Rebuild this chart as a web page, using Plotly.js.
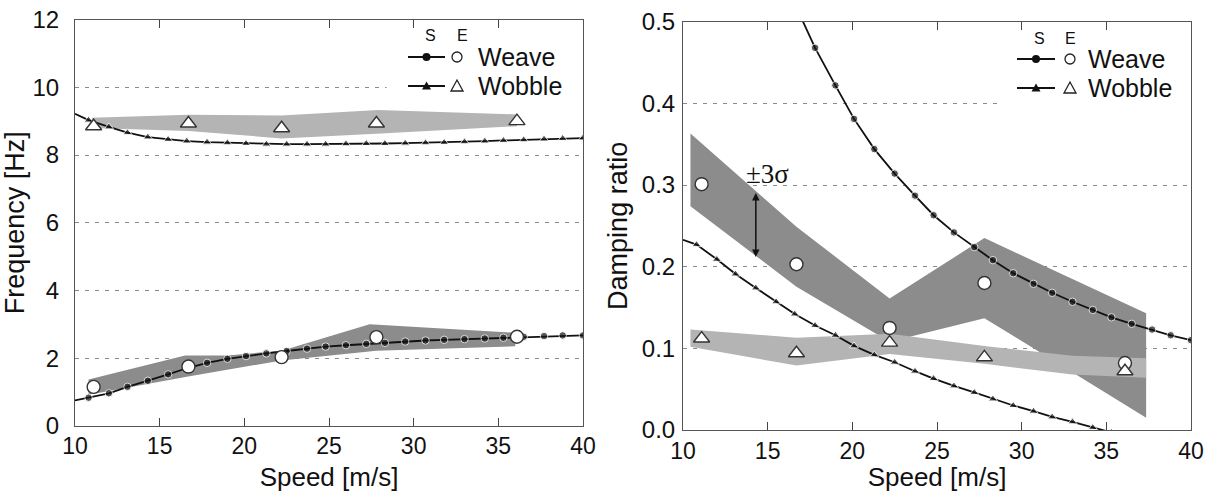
<!DOCTYPE html>
<html><head><meta charset="utf-8">
<script src="https://cdn.plot.ly/plotly-3.0.1.min.js"></script>
<style>html,body{margin:0;padding:0;background:#fff}#chart{width:1215px;height:492px}</style>
</head><body><div id="chart"></div>
<script>
// ---------- data ----------
const simX = [10.0, 10.8, 12.0, 13.1, 14.3, 15.5, 16.6, 17.8, 19.0, 20.1, 21.3, 22.5, 23.7, 24.8, 26.0, 27.2, 28.3, 29.5, 30.7, 31.8, 33.0, 34.2, 35.3, 36.5, 37.7, 38.8, 40.0];
const weaveFreqS = [0.75, 0.83, 0.96, 1.15, 1.33, 1.52, 1.70, 1.86, 1.98, 2.06, 2.14, 2.21, 2.28, 2.34, 2.38, 2.42, 2.45, 2.49, 2.52, 2.54, 2.56, 2.58, 2.60, 2.63, 2.65, 2.67, 2.67];
const wobbleFreqS = [9.22, 9.03, 8.83, 8.66, 8.53, 8.46, 8.41, 8.38, 8.36, 8.34, 8.32, 8.32, 8.32, 8.32, 8.33, 8.34, 8.34, 8.35, 8.36, 8.37, 8.39, 8.41, 8.43, 8.45, 8.47, 8.49, 8.50];

const weaveDampX = [16.6, 17.8, 19.0, 20.1, 21.3, 22.5, 23.7, 24.8, 26.0, 27.2, 28.3, 29.5, 30.7, 31.8, 33.0, 34.2, 35.3, 36.5, 37.7, 38.8, 40.0];
const weaveDampS = [0.522, 0.468, 0.422, 0.381, 0.344, 0.314, 0.287, 0.263, 0.242, 0.224, 0.208, 0.192, 0.179, 0.168, 0.157, 0.147, 0.138, 0.130, 0.123, 0.116, 0.110];
const wobbleDampX = [10.0, 10.8, 12.0, 13.1, 14.3, 15.5, 16.6, 17.8, 19.0, 20.1, 21.3, 22.5, 23.7, 24.8, 26.0, 27.2, 28.3, 29.5, 30.7, 31.8, 33.0, 34.2, 35.3];
const wobbleDampS = [0.233, 0.227, 0.209, 0.191, 0.174, 0.157, 0.142, 0.128, 0.116, 0.103, 0.092, 0.083, 0.072, 0.063, 0.054, 0.046, 0.038, 0.030, 0.023, 0.016, 0.010, 0.003, -0.003];

const expX = [11.1, 16.7, 22.2, 27.8, 36.1];
const weaveFreqE = [1.15, 1.75, 2.03, 2.62, 2.63];
const wobbleFreqE = [8.85, 8.93, 8.79, 8.93, 9.00];
const weaveDampE = [0.301, 0.203, 0.125, 0.180, 0.082];
const wobbleDampE = [0.112, 0.094, 0.107, 0.089, 0.072];

// +-3 sigma bands (upper edge left->right, lower edge right->left)
const weaveFreqBandUx = [10.8, 16.5, 19.0, 22.2, 27.4, 36.0];
const weaveFreqBandUy = [1.37, 2.08, 2.08, 2.22, 3.00, 2.75];
const weaveFreqBandLx = [36.0, 27.8, 22.2, 16.6, 10.8];
const weaveFreqBandLy = [2.35, 2.22, 1.93, 1.45, 0.92];

const wobbleFreqBandUx = [11.0, 16.7, 22.2, 27.9, 36.1];
const wobbleFreqBandUy = [9.10, 9.19, 9.17, 9.33, 9.20];
const wobbleFreqBandLx = [36.1, 27.8, 22.2, 16.7, 11.0];
const wobbleFreqBandLy = [8.85, 8.63, 8.49, 8.71, 8.80];

const weaveDampBandUx = [10.44, 16.7, 22.2, 27.8, 37.35];
const weaveDampBandUy = [0.363, 0.249, 0.161, 0.235, 0.143];
const weaveDampBandLx = [37.35, 27.8, 22.2, 16.7, 10.44];
const weaveDampBandLy = [0.015, 0.137, 0.108, 0.1755, 0.274];

const wobbleDampBandUx = [10.44, 16.7, 22.2, 27.8, 33.0, 37.35];
const wobbleDampBandUy = [0.123, 0.113, 0.118, 0.103, 0.091, 0.088];
const wobbleDampBandLx = [37.35, 33.0, 27.8, 22.2, 16.7, 10.44];
const wobbleDampBandLy = [0.064, 0.068, 0.081, 0.093, 0.079, 0.102];

const xTicks = [10, 15, 20, 25, 30, 35, 40];
const legendNames = ['Weave', 'Wobble'];

// ---------- styles ----------
const DARK = '#8c8c8c', LIGHT = '#b4b4b4';
const FONT = 'Liberation Sans, Arial, Helvetica, sans-serif';

function band(ux, uy, lx, ly, color, xa, ya) {
  return {x: ux.concat(lx), y: uy.concat(ly), xaxis: xa, yaxis: ya, mode: 'lines', fill: 'toself',
          fillcolor: color, line: {width: 0, color: color}, hoverinfo: 'skip', showlegend: false};
}
function simLine(x, y, sym, xa, ya, hideFirst) {
  const sizes = x.map((v, i) => (hideFirst && i === 0) ? 0 : (sym === 'circle' ? 7.5 : 8));
  return {x: x, y: y, xaxis: xa, yaxis: ya, mode: 'lines+markers', showlegend: false,
          line: {color: '#111', width: 1.8},
          marker: {symbol: sym === 'circle' ? 'circle' : 'triangle-up', size: sizes, color: '#111'}};
}
function expPts(x, y, sym, xa, ya) {
  return {x: x, y: y, xaxis: xa, yaxis: ya, mode: 'markers', showlegend: false,
          marker: {symbol: sym === 'circle' ? 'circle' : 'triangle-up', size: sym === 'circle' ? 13 : 14,
                   color: '#fff', line: {color: '#333', width: 1.4}}};
}

const traces = [
  band(wobbleFreqBandUx, wobbleFreqBandUy, wobbleFreqBandLx, wobbleFreqBandLy, LIGHT, 'x', 'y'),
  band(weaveFreqBandUx, weaveFreqBandUy, weaveFreqBandLx, weaveFreqBandLy, DARK, 'x', 'y'),
  simLine(simX, weaveFreqS, 'circle', 'x', 'y', true),
  simLine(simX, wobbleFreqS, 'triangle', 'x', 'y', true),
  expPts(expX, weaveFreqE, 'circle', 'x', 'y'),
  expPts(expX, wobbleFreqE, 'triangle', 'x', 'y'),

  band(weaveDampBandUx, weaveDampBandUy, weaveDampBandLx, weaveDampBandLy, DARK, 'x2', 'y2'),
  band(wobbleDampBandUx, wobbleDampBandUy, wobbleDampBandLx, wobbleDampBandLy, LIGHT, 'x2', 'y2'),
  simLine(weaveDampX, weaveDampS, 'circle', 'x2', 'y2', false),
  simLine(wobbleDampX, wobbleDampS, 'triangle', 'x2', 'y2', true),
  expPts(expX, weaveDampE, 'circle', 'x2', 'y2'),
  expPts(expX, wobbleDampE, 'triangle', 'x2', 'y2')
];

const W = 1215, H = 492;
const px = v => v / W, py = v => 1 - v / H;

function xAxis(domain, anchor) {
  return {domain: domain, anchor: anchor, range: [10, 40], tickvals: xTicks, ticks: 'inside', ticklen: 8,
          tickcolor: '#444', tickwidth: 1, showline: true, linecolor: '#555', linewidth: 1, mirror: 'ticks',
          showgrid: false, zeroline: false, tickfont: {size: 23, color: '#111'},
          title: {text: 'Speed [m/s]', font: {size: 26, color: '#111'}, standoff: 9}};
}
function yAxis(domain, anchor, range, dtick, fmt, title, standoff, tls) {
  return {domain: domain, anchor: anchor, range: range, dtick: dtick, tick0: 0, tickformat: fmt,
          showgrid: true, gridcolor: '#8a8a8a', griddash: '4px,6px', gridwidth: 1,
          ticks: '', showline: true, mirror: true, linecolor: '#555', linewidth: 1, zeroline: false,
          ticklabelstandoff: tls,
          tickfont: {size: 24, color: '#111'}, title: {text: title, font: {size: 27, color: '#111'}, standoff: standoff}};
}

// legend decorations (manual)
function legendDeco(sx0, sx1, oX, tX, sLabX, eLabX, rowY1, rowY2, seY, xref, yref, cover) {
  const shapes = [
    {type: 'rect', xref: xref, yref: yref, x0: cover[0], x1: cover[1], y0: cover[2], y1: cover[3],
     fillcolor: '#fff', line: {width: 0}, layer: 'between'},
    {type: 'line', xref: 'paper', yref: 'paper', x0: px(sx0), x1: px(sx1), y0: py(rowY1), y1: py(rowY1), line: {color: '#111', width: 1.8}},
    {type: 'line', xref: 'paper', yref: 'paper', x0: px(sx0), x1: px(sx1), y0: py(rowY2), y1: py(rowY2), line: {color: '#111', width: 1.8}},
    {type: 'circle', xref: 'paper', yref: 'paper', xsizemode: 'pixel', ysizemode: 'pixel',
     xanchor: px((sx0 + sx1) / 2), yanchor: py(rowY1), x0: -4, x1: 4, y0: -4, y1: 4, fillcolor: '#111', line: {width: 0}},
    {type: 'path', xref: 'paper', yref: 'paper', xsizemode: 'pixel', ysizemode: 'pixel',
     xanchor: px((sx0 + sx1) / 2), yanchor: py(rowY2), path: 'M -4.5 -3.5 L 4.5 -3.5 L 0 4.5 Z', fillcolor: '#111', line: {width: 0}},
    {type: 'circle', xref: 'paper', yref: 'paper', xsizemode: 'pixel', ysizemode: 'pixel',
     xanchor: px(oX), yanchor: py(rowY1), x0: -5, x1: 5, y0: -5, y1: 5, fillcolor: '#fff', line: {color: '#222', width: 1.3}},
    {type: 'path', xref: 'paper', yref: 'paper', xsizemode: 'pixel', ysizemode: 'pixel',
     xanchor: px(oX), yanchor: py(rowY2), path: 'M -6 -5 L 6 -5 L 0 6 Z', fillcolor: '#fff', line: {color: '#222', width: 1.3}}
  ];
  const anns = [
    {xref: 'paper', yref: 'paper', x: px(tX), y: py(rowY1), xanchor: 'left', yanchor: 'middle', showarrow: false,
     text: legendNames[0], font: {size: 25, color: '#111'}},
    {xref: 'paper', yref: 'paper', x: px(tX), y: py(rowY2), xanchor: 'left', yanchor: 'middle', showarrow: false,
     text: legendNames[1], font: {size: 25, color: '#111'}},
    {xref: 'paper', yref: 'paper', x: px(sLabX), y: py(seY), xanchor: 'center', yanchor: 'middle', showarrow: false,
     text: 'S', font: {size: 16, color: '#111'}},
    {xref: 'paper', yref: 'paper', x: px(eLabX), y: py(seY), xanchor: 'center', yanchor: 'middle', showarrow: false,
     text: 'E', font: {size: 16, color: '#111'}}
  ];
  return {shapes, anns};
}

const L1 = legendDeco(408, 445, 457, 476, 430, 462, 57, 86, 36, 'x', 'y', [28.4, 40, 9.55, 11.9]);
const L2 = legendDeco(1017, 1055, 1070, 1086, 1039, 1070, 59, 88, 38, 'x2', 'y2', [28.7, 40, 0.385, 0.49]);

const annotations = L1.anns.concat(L2.anns).concat([
  {xref: 'x2', yref: 'y2', x: 15.0, y: 0.313, text: '±3σ', showarrow: false,
   font: {family: 'Liberation Serif, Times New Roman, serif', size: 27, color: '#111'}},
  {xref: 'x2', yref: 'y2', x: 14.3, y: 0.212, axref: 'x2', ayref: 'y2', ax: 14.3, ay: 0.292, text: '',
   showarrow: true, arrowhead: 2, startarrowhead: 2, arrowside: 'end+start', arrowwidth: 1.5, arrowsize: 1, arrowcolor: '#111'}
]);

const layout = {
  width: W, height: H, margin: {l: 0, r: 0, t: 0, b: 0, pad: 0},
  paper_bgcolor: '#fff', plot_bgcolor: '#fff', showlegend: false,
  font: {family: FONT, color: '#111'},
  xaxis: xAxis([px(75), px(583)], 'y'),
  yaxis: yAxis([1 - 425.8 / H, 1 - 19.6 / H], 'x', [0, 12], 2, 'd', 'Frequency [Hz]', 2, 10),
  xaxis2: xAxis([px(683), px(1191)], 'y2'),
  yaxis2: yAxis([1 - 430 / H, 1 - 21.7 / H], 'x2', [0, 0.5], 0.1, '.1f', 'Damping ratio', 6, 2),
  shapes: L1.shapes.concat(L2.shapes),
  annotations: annotations
};

Plotly.newPlot('chart', traces, layout, {staticPlot: true, displayModeBar: false});
</script>
</body></html>
